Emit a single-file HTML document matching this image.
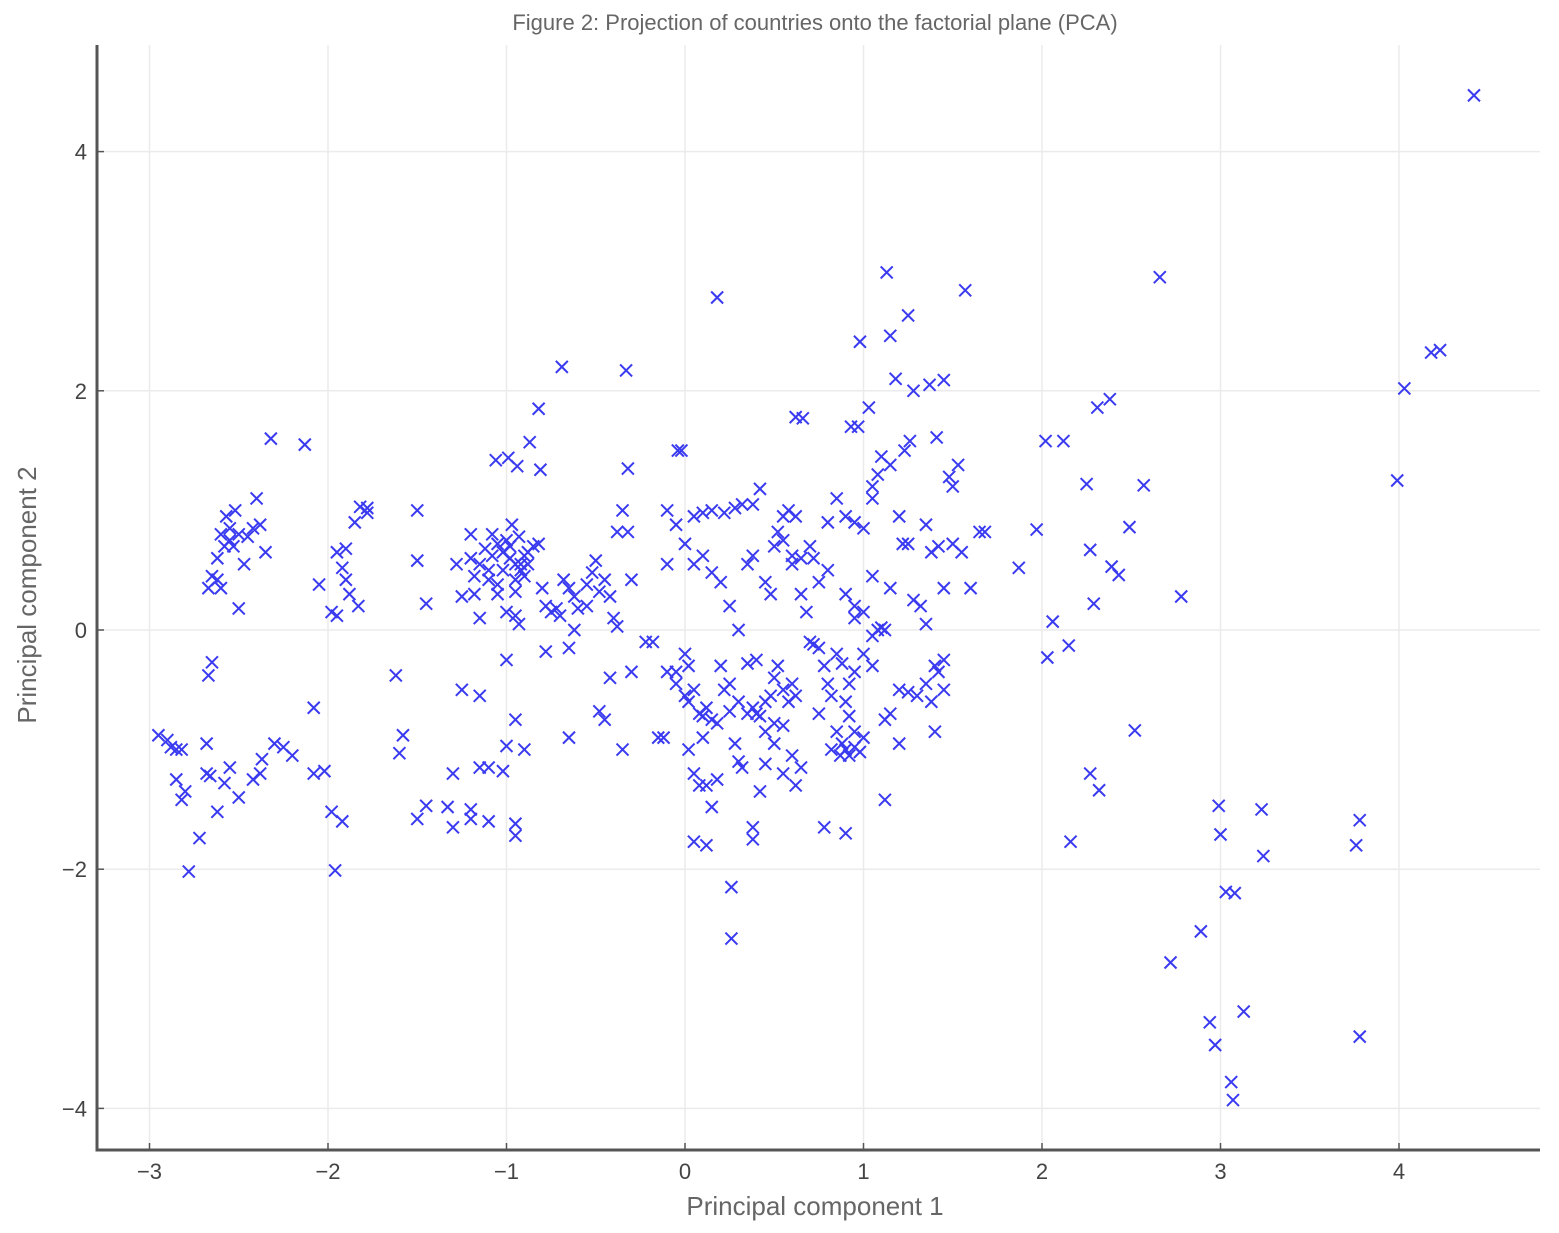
<!DOCTYPE html>
<html><head><meta charset="utf-8"><style>
html,body{margin:0;padding:0;background:#fff;}
svg{display:block;font-family:"Liberation Sans",sans-serif;}
</style></head><body>
<svg id="chart" width="1559" height="1233" viewBox="0 0 1559 1233" xmlns="http://www.w3.org/2000/svg">
<text x="815" y="30" text-anchor="middle" font-size="22" fill="#666">Figure 2: Projection of countries onto the factorial plane (PCA)</text>
<g id="grid"></g>
<g id="marks"></g>
<g id="axes"></g>
<text x="815" y="1215" text-anchor="middle" font-size="26" fill="#666">Principal component 1</text>
<text transform="translate(36,595) rotate(-90)" text-anchor="middle" font-size="26" fill="#666">Principal component 2</text>
</svg>
<script>
const xTicks = [-3,-2,-1,0,1,2,3,4];
const yTicks = [-4,-2,0,2,4];
const xTickLabels = ["\u22123","\u22122","\u22121","0","1","2","3","4"];
const yTickLabels = ["\u22124","\u22122","0","2","4"];
const points = [
[4.42,4.47],[1.13,2.99],[2.66,2.95],[0.18,2.78],[1.57,2.84],[1.25,2.63],[0.98,2.41],[1.15,2.46],[-0.69,2.2],[-0.33,2.17],
[1.18,2.1],[1.28,2.0],[1.37,2.05],[1.45,2.09],[4.03,2.02],[4.18,2.32],[4.23,2.34],[2.31,1.86],[2.38,1.93],[-0.82,1.85],
[1.03,1.86],[-2.32,1.6],[-2.13,1.55],[2.02,1.58],[2.12,1.58],[1.41,1.61],[1.26,1.58],[-1.06,1.42],[-0.99,1.44],[-0.94,1.37],
[-0.87,1.57],[-0.81,1.34],[-0.32,1.35],[-0.04,1.5],[-0.02,1.5],[0.93,1.7],[0.97,1.7],[0.62,1.78],[0.66,1.77],[1.23,1.5],
[1.53,1.38],[3.99,1.25],[2.57,1.21],[2.25,1.22],[2.78,0.28],[2.49,0.86],[1.97,0.84],[1.87,0.52],[2.27,0.67],[2.39,0.53],
[2.43,0.46],[2.29,0.22],[2.06,0.07],[2.03,-0.23],[2.15,-0.13],[2.52,-0.84],[2.27,-1.2],[2.32,-1.34],[2.16,-1.77],[2.99,-1.47],
[3.0,-1.71],[3.23,-1.5],[3.24,-1.89],[3.03,-2.19],[3.08,-2.2],[2.89,-2.52],[2.72,-2.78],[2.94,-3.28],[2.97,-3.47],[3.13,-3.19],
[3.06,-3.78],[3.07,-3.93],[3.78,-3.4],[3.78,-1.59],[3.76,-1.8],[0.26,-2.15],[0.26,-2.58],[-2.78,-2.02],[-1.96,-2.01],
[-2.6,0.8],[-2.55,0.85],[-2.5,0.8],[-2.58,0.7],[-2.62,0.6],[-2.65,0.45],[-2.67,0.35],[-2.6,0.35],[-2.55,0.75],[-2.45,0.78],
[-2.42,0.85],[-2.38,0.88],[-2.4,1.1],[-2.52,1.0],[-2.47,0.55],[-2.5,0.18],[-2.35,0.65],[-2.57,0.95],[-2.62,0.42],[-2.53,0.7],
[-2.95,-0.88],[-2.9,-0.92],[-2.88,-0.98],[-2.85,-1.0],[-2.82,-1.0],[-2.85,-1.25],[-2.8,-1.35],[-2.82,-1.42],[-2.72,-1.74],[-2.68,-1.2],
[-2.66,-1.22],[-2.68,-0.95],[-2.67,-0.38],[-2.65,-0.27],[-2.62,-1.52],[-2.58,-1.28],[-2.55,-1.15],[-2.5,-1.4],[-2.42,-1.25],[-2.38,-1.2],
[-2.37,-1.08],[-2.3,-0.95],[-2.25,-0.98],[-2.2,-1.05],[-2.08,-1.2],[-2.02,-1.18],[-2.08,-0.65],[-1.98,-1.52],[-1.92,-1.6],
[-2.05,0.38],[-1.98,0.15],[-1.95,0.65],[-1.9,0.68],[-1.92,0.52],[-1.9,0.42],[-1.88,0.3],[-1.83,0.2],[-1.85,0.9],[-1.82,1.03],
[-1.78,0.98],[-1.78,1.02],[-1.95,0.12],[-1.62,-0.38],[-1.58,-0.88],[-1.6,-1.03],[-1.5,1.0],[-1.5,0.58],[-1.45,0.22],[-1.5,-1.58],
[-1.45,-1.47],[-1.33,-1.48],[-1.3,-1.65],[-1.3,-1.2],[-1.25,-0.5],[-1.28,0.55],[-1.25,0.28],[-1.2,0.8],[-1.18,0.3],
[-1.15,0.55],[-1.1,0.5],[-1.05,0.72],[-1.0,0.75],[-0.98,0.6],[-0.95,0.55],[-0.92,0.5],[-0.9,0.62],[-0.95,0.42],[-1.05,0.38],
[-1.1,0.42],[-1.12,0.68],[-1.08,0.62],[-1.02,0.5],[-0.97,0.88],[-0.93,0.78],[-0.88,0.65],[-0.85,0.7],[-0.82,0.72],[-0.9,0.45],
[-0.95,0.32],[-1.0,0.15],[-0.95,0.12],[-1.15,0.1],[-1.2,0.6],[-1.08,0.8],[-0.98,0.7],[-1.02,0.65],[-0.92,0.55],[-0.88,0.55],
[-1.18,0.45],[-1.05,0.3],[-0.93,0.05],[-1.15,-0.55],[-1.15,-1.15],[-1.1,-1.15],[-1.2,-1.5],[-1.2,-1.58],[-1.1,-1.6],[-1.02,-1.18],
[-1.0,-0.97],[-1.0,-0.25],[-0.95,-0.75],[-0.9,-1.0],[-0.95,-1.62],[-0.95,-1.72],
[-0.8,0.35],[-0.78,0.2],[-0.75,0.15],[-0.72,0.18],[-0.7,0.12],[-0.68,0.42],[-0.65,0.35],[-0.62,0.28],[-0.6,0.18],[-0.62,0.0],
[-0.65,-0.15],[-0.78,-0.18],[-0.55,0.38],[-0.52,0.48],[-0.5,0.58],[-0.48,0.32],[-0.45,0.42],[-0.42,0.28],[-0.4,0.1],[-0.38,0.03],
[-0.55,0.2],[-0.45,-0.75],[-0.48,-0.68],[-0.65,-0.9],[-0.42,-0.4],[-0.35,-1.0],[-0.35,1.0],[-0.38,0.82],[-0.32,0.82],[-0.3,0.42],
[-0.3,-0.35],[-0.22,-0.1],[-0.18,-0.1],[-0.15,-0.9],[-0.12,-0.9],
[-0.1,0.55],[-0.1,1.0],[-0.05,0.88],[0.0,0.72],[0.05,0.95],[0.1,0.98],[0.15,1.0],[0.22,0.98],[0.28,1.02],[0.32,1.05],
[0.38,1.05],[0.42,1.18],[0.05,0.55],[0.1,0.62],[0.15,0.48],[0.2,0.4],[0.25,0.2],[0.3,0.0],[0.35,0.55],[0.38,0.62],
[0.45,0.4],[0.48,0.3],[0.5,0.7],[0.52,0.82],[0.55,0.95],[0.58,1.0],[0.62,0.95],[0.55,0.75],[0.6,0.62],
[-0.1,-0.35],[-0.05,-0.45],[0.0,-0.55],[0.02,-0.6],[0.05,-0.5],[0.08,-0.7],[0.1,-0.72],[0.12,-0.65],[0.15,-0.75],[0.18,-0.78],
[0.2,-0.3],[0.22,-0.5],[0.25,-0.68],[0.28,-0.95],[0.3,-1.1],[0.32,-1.15],[0.35,-0.7],[0.38,-0.65],[0.42,-0.72],[0.45,-0.6],
[0.48,-0.55],[0.5,-0.4],[0.52,-0.3],[0.55,-0.5],[0.58,-0.6],[0.6,-0.45],[0.62,-0.55],[0.55,-0.8],[0.5,-0.78],[0.45,-0.85],
[0.4,-0.7],[0.35,-0.28],[0.4,-0.25],[0.45,-1.12],[0.5,-0.95],[0.55,-1.2],[0.6,-1.05],[0.62,-1.3],[0.65,-1.15],[0.42,-1.35],
[0.38,-1.65],[0.38,-1.75],[0.05,-1.2],[0.02,-1.0],[0.08,-1.3],[0.12,-1.3],[0.18,-1.25],[0.15,-1.48],[0.05,-1.77],[0.12,-1.8],
[0.0,-0.2],[-0.05,-0.35],[0.02,-0.3],[0.1,-0.9],[0.25,-0.45],[0.3,-0.6],
[0.65,0.3],[0.68,0.15],[0.7,-0.1],[0.72,-0.12],[0.75,-0.15],[0.78,-0.3],[0.8,-0.45],[0.82,-0.55],[0.85,-0.2],[0.88,-0.28],
[0.9,-0.6],[0.92,-0.72],[0.95,-0.85],[0.85,-0.85],[0.88,-0.95],[0.9,-1.0],[0.92,-1.05],[0.95,-0.98],[0.98,-1.02],[1.0,-0.9],
[0.82,-1.0],[0.87,-1.05],[0.78,-1.65],[0.9,-1.7],[0.75,-0.7],[1.05,-0.05],[1.08,0.0],[1.1,0.02],[1.12,0.0],[1.05,-0.3],
[1.0,-0.2],[0.95,-0.35],[0.92,-0.45],[1.15,-0.7],[1.12,-0.75],[1.2,-0.95],[1.12,-1.42],[1.2,-0.5],[1.25,-0.52],[1.3,-0.55],
[1.35,-0.45],[1.38,-0.6],[1.4,-0.3],[1.42,-0.35],[1.45,-0.25],[1.45,-0.5],[1.4,-0.85],
[0.7,0.7],[0.75,0.4],[0.8,0.9],[0.85,1.1],[0.9,0.95],[0.95,0.9],[1.0,0.85],[1.05,1.1],[1.05,1.2],[1.08,1.3],
[1.1,1.45],[1.15,1.38],[1.2,0.95],[1.22,0.72],[1.25,0.72],[1.28,0.25],[1.32,0.2],[1.35,0.05],[1.38,0.65],[1.42,0.7],
[1.45,0.35],[1.5,0.72],[1.5,1.2],[1.48,1.28],[1.55,0.65],[1.6,0.35],[1.65,0.82],[1.68,0.82],[1.35,0.88],[0.95,0.2],
[0.9,0.3],[0.95,0.1],[1.0,0.15],[1.05,0.45],[1.15,0.35],[0.6,0.55],[0.65,0.6],[0.72,0.6],[0.8,0.5]
];

const NS = "http://www.w3.org/2000/svg";
const L = 97, R = 1540, T = 45, B = 1150;
function sx(v){ return 685 + 178.5 * v; }
function sy(v){ return 630 - 119.6 * v; }
function mk(tag, attrs, parent){
  const e = document.createElementNS(NS, tag);
  for (const k in attrs) e.setAttribute(k, attrs[k]);
  parent.appendChild(e);
  return e;
}
const grid = document.getElementById('grid');
const axes = document.getElementById('axes');
const marks = document.getElementById('marks');

xTicks.forEach((t, i) => {
  const g = mk('line', {x1: sx(t), x2: sx(t), y1: T, y2: B, stroke: '#ebebeb', 'stroke-width': 1.5}, grid);
  
  
  const tk = mk('line', {x1: sx(t), x2: sx(t), y1: B, y2: B - 7, stroke: '#555', 'stroke-width': 1.5}, axes);
  
  
  const lb = mk('text', {x: sx(t), y: B + 29, 'text-anchor': 'middle', 'font-size': 22, fill: '#444'}, axes);
  lb.textContent = xTickLabels[i];
  
  
});
yTicks.forEach((t, i) => {
  const g = mk('line', {x1: L, x2: R, y1: sy(t), y2: sy(t), stroke: '#ebebeb', 'stroke-width': 1.5}, grid);
  
  
  const tk = mk('line', {x1: L, x2: L + 7, y1: sy(t), y2: sy(t), stroke: '#555', 'stroke-width': 1.5}, axes);
  
  
  const lb = mk('text', {x: L - 10, y: sy(t) + 8, 'text-anchor': 'end', 'font-size': 22, fill: '#444'}, axes);
  lb.textContent = yTickLabels[i];
  
  
});
const ax1 = mk('line', {x1: L, x2: L, y1: T, y2: B + 1.5, stroke: '#555', 'stroke-width': 3}, axes);


const ax2 = mk('line', {x1: L - 1.5, x2: R, y1: B, y2: B, stroke: '#555', 'stroke-width': 3}, axes);



const s = 6;
points.forEach(p => {
  const x = sx(p[0]), y = sy(p[1]);
  const m = mk('path', {d: `M${x-s},${y-s}L${x+s},${y+s}M${x-s},${y+s}L${x+s},${y-s}`, stroke: '#3a3af0', 'stroke-width': 2, fill: 'none'}, marks);
  
  
});
</script>
</body></html>
